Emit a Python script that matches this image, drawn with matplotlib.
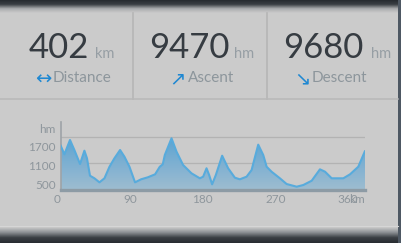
import numpy as np
import matplotlib
matplotlib.use("Agg")
import matplotlib.pyplot as plt
from matplotlib.colors import LinearSegmentedColormap
from matplotlib.transforms import blended_transform_factory

# summary numbers
stat_values = ["402", "9470", "9680"]
stat_units = ["km", "hm", "hm"]
stat_labels = ["Distance", "Ascent", "Descent"]
stat_icons = ["\u2194", "\u2197", "\u2198"]

# elevation profile (km, m)
dist_km = [4.2, 9.2, 16.1, 21.5, 28.5, 33.9, 37.1, 40.8, 46.3, 52.5,
           58.7, 64.9, 71.0, 78.0, 83.4, 89.6, 96.5, 104.0, 112.3, 121.3,
           127.1, 130.8, 133.3, 141.6, 147.8, 155.9, 166.3, 176.6, 180.7, 184.9,
           188.1, 191.8, 196.4, 204.2, 211.6, 219.9, 226.1, 234.4, 240.6, 248.8,
           255.0, 259.2, 265.3, 275.6, 283.9, 296.3, 304.5, 314.9, 325.1, 331.4,
           339.6, 354.0, 362.3, 372.5, 380.8]
elev_m = [1522, 1308, 1638, 1407, 1084, 1391, 1215, 814, 754, 661,
          754, 1021, 1215, 1407, 1252, 1021, 661, 731, 777, 846,
          1021, 1077, 1291, 1677, 1368, 1061, 869, 754, 791, 985,
          830, 615, 830, 1275, 985, 768, 731, 791, 945, 1530,
          1291, 1021, 906, 754, 622, 560, 599, 698, 961, 906,
          754, 754, 846, 1021, 1384]

x_ticks = [0, 90, 180, 270, 360]
y_tick_labels = ["hm", "1700", "1100", "500"]
grid_levels = [1700, 1100]

W, H = 401, 243
BG = "#cbcbcb"
FONT = "Lato"

fig = plt.figure(figsize=(W / 100, H / 100), dpi=100)
fig.patch.set_facecolor(BG)

# background axes in pixel coords
bg = fig.add_axes([0, 0, 1, 1])
bg.set_xlim(0, W)
bg.set_ylim(H, 0)
bg.axis("off")

grad = np.linspace(0, 1, 64).reshape(-1, 1)
top_cmap = LinearSegmentedColormap.from_list("top", ["#262b30", "#3a3f44", "#a9abad", BG])
bg.imshow(grad, cmap=top_cmap, extent=[0, W, 13, 0], aspect="auto")
bot_cmap = LinearSegmentedColormap.from_list("bot", [BG, "#8c9094", "#3a3f44", "#282c31"])
bg.imshow(grad, cmap=bot_cmap, extent=[0, W, H, 227], aspect="auto")
bg.plot([0, 398], [225.5, 225.5], color="#d6d6d6", lw=0.8)
bg.add_patch(plt.Rectangle((398, 0), 3, H, color="#4e5863", lw=0))

# separators
for sx in [133.3, 267]:
    bg.plot([sx, sx], [13, 99], color="#b8b8b8", lw=1.3)
bg.plot([0, 398], [99, 99], color="#b8b8b8", lw=1.1)

num_right = [89.5, 230, 363.5]
unit_left = [94.5, 234, 370.5]
icon_x = [43, 177, 302.5]
label_left = [53, 188, 312]
for i in range(3):
    bg.text(num_right[i], 57.5, stat_values[i], ha="right", va="baseline",
            fontsize=25, color="#363c42", family=FONT)
    bg.text(unit_left[i], 57.5, stat_units[i], ha="left", va="baseline",
            fontsize=10.5, color="#969ea4", family=FONT)
    bg.text(icon_x[i], 79, stat_icons[i], ha="center", va="center",
            fontsize=14, color="#1f88d2", family="DejaVu Sans")
    bg.text(label_left[i], 81.5, stat_labels[i], ha="left", va="baseline",
            fontsize=11, color="#8d969c", family=FONT)

# elevation chart
ax = fig.add_axes([60.7 / W, (H - 190) / H, 304.3 / W, 68 / H])
ax.set_facecolor("none")
y0, y1 = 484, 2053

for g in grid_levels:
    ax.axhline(g, color="#b3b3b3", lw=0.9, zorder=1)

poly = ax.fill_between(dist_km, elev_m, y0, facecolor="none", lw=0)
fill_cmap = LinearSegmentedColormap.from_list("fill", ["#5aa3d1", "#7eb0d2", "#9ebdd0"])
im = ax.imshow(np.linspace(0, 1, 256).reshape(-1, 1), cmap=fill_cmap,
               extent=[dist_km[0], dist_km[-1], y0, 1700], aspect="auto", zorder=2)
im.set_clip_path(poly.get_paths()[0], transform=ax.transData)
ax.plot(dist_km, elev_m, color="#58abdc", lw=1.5, zorder=3,
        solid_joinstyle="round", solid_capstyle="round")

ax.set_xlim(4.6, 380.8)
ax.set_ylim(y0, y1)
ax.set_xticks([])
ax.set_yticks([])
for s in ["top", "right"]:
    ax.spines[s].set_visible(False)
ax.spines["left"].set_color("#9ea3a7")
ax.spines["left"].set_linewidth(1.2)
ax.spines["bottom"].set_color("#8d9ba5")
ax.spines["bottom"].set_linewidth(2.4)

trans = blended_transform_factory(ax.transData, ax.transAxes)
for t in x_ticks:
    ax.text(t, -0.137, str(t), transform=trans, ha="center", va="center",
            fontsize=8.5, color="#8e969c", family=FONT, clip_on=False)
bg.text(365, 199.3, "km", ha="right", va="center", fontsize=8.5,
        color="#8e969c", family=FONT)

for lab, py in zip(y_tick_labels, [129, 147, 166, 185]):
    bg.text(56, py, lab, ha="right", va="center", fontsize=8.5,
            color="#8e969c", family=FONT)

fig.savefig("out.png", dpi=100, facecolor=fig.get_facecolor())
